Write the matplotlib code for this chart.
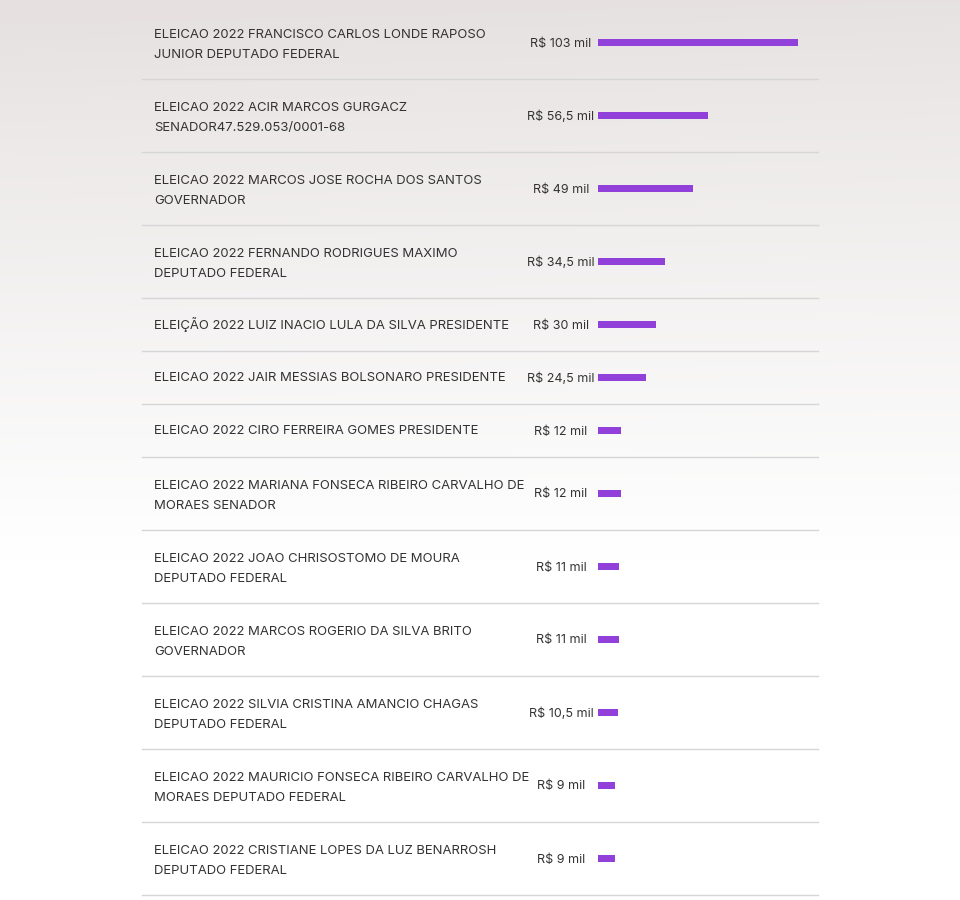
import numpy as np
import matplotlib
matplotlib.use("Agg")
import matplotlib.pyplot as plt

labels = [
    "ELEICAO 2022 FRANCISCO CARLOS LONDE RAPOSO\nJUNIOR DEPUTADO FEDERAL",
    "ELEICAO 2022 ACIR MARCOS GURGACZ\nSENADOR47.529.053/0001-68",
    "ELEICAO 2022 MARCOS JOSE ROCHA DOS SANTOS\nGOVERNADOR",
    "ELEICAO 2022 FERNANDO RODRIGUES MAXIMO\nDEPUTADO FEDERAL",
    "ELEIÇÃO 2022 LUIZ INACIO LULA DA SILVA PRESIDENTE",
    "ELEICAO 2022 JAIR MESSIAS BOLSONARO PRESIDENTE",
    "ELEICAO 2022 CIRO FERREIRA GOMES PRESIDENTE",
    "ELEICAO 2022 MARIANA FONSECA RIBEIRO CARVALHO DE\nMORAES SENADOR",
    "ELEICAO 2022 JOAO CHRISOSTOMO DE MOURA\nDEPUTADO FEDERAL",
    "ELEICAO 2022 MARCOS ROGERIO DA SILVA BRITO\nGOVERNADOR",
    "ELEICAO 2022 SILVIA CRISTINA AMANCIO CHAGAS\nDEPUTADO FEDERAL",
    "ELEICAO 2022 MAURICIO FONSECA RIBEIRO CARVALHO DE\nMORAES DEPUTADO FEDERAL",
    "ELEICAO 2022 CRISTIANE LOPES DA LUZ BENARROSH\nDEPUTADO FEDERAL",
]
values = [103, 56.5, 49, 34.5, 30, 24.5, 12, 12, 11, 11, 10.5, 9, 9]
value_labels = ["R$ 103 mil", "R$ 56,5 mil", "R$ 49 mil", "R$ 34,5 mil", "R$ 30 mil",
                "R$ 24,5 mil", "R$ 12 mil", "R$ 12 mil", "R$ 11 mil", "R$ 11 mil",
                "R$ 10,5 mil", "R$ 9 mil", "R$ 9 mil"]

W, H = 960, 900
plt.rcParams['font.family'] = ['Inter', 'DejaVu Sans']
fig = plt.figure(figsize=(W / 100, H / 100), dpi=100)

ax0 = fig.add_axes([0, 0, 1, 1])
ax0.set_xlim(0, W)
ax0.set_ylim(H, 0)
ax0.axis('off')

# background gradient
yy = np.linspace(0, 1, 300)[:, None]
xx = np.linspace(0, 1, 300)[None, :]
t = np.clip(yy / 0.62, 0, 1) ** 0.9
t = np.clip(t - 0.06 * (1 - xx) * (1 - t), 0, 1)
top = np.array([0.902, 0.886, 0.882])
img = top[None, None, :] * (1 - t[..., None]) + np.ones(3)[None, None, :] * t[..., None]
ax0.imshow(img, extent=[0, W, H, 0], aspect='auto', zorder=0)

# row layout
y0 = 6
centers = []
bounds = []
nlines = []
y = y0
for lab in labels:
    n = lab.count("\n") + 1
    h = 73 if n == 2 else 53
    centers.append(y + h / 2)
    nlines.append(n)
    y += h
    bounds.append(y)

txt_color = '#333333'
for lab, vl, c, b, n in zip(labels, value_labels, centers, bounds, nlines):
    off = 2.5 if n == 2 else 0.5
    ax0.text(154, c + off, lab, ha='left', va='center', fontsize=9.45, color=txt_color,
             linespacing=1.92, zorder=3)
    ax0.text(561, c + 1, vl, ha='center', va='center', fontsize=9.0, color=txt_color, zorder=3)
    ax0.plot([142, 818], [b, b], color='#d6d6d6', lw=1.0, zorder=2)

# bars
axb = fig.add_axes([598 / W, 0, 200 / W, 1])
axb.set_xlim(0, max(values))
axb.set_ylim(H, 0)
axb.axis('off')
axb.patch.set_alpha(0)
axb.barh(centers, values, height=7.5, color='#9140d9', zorder=4)

fig.savefig('out.png', dpi=100)
